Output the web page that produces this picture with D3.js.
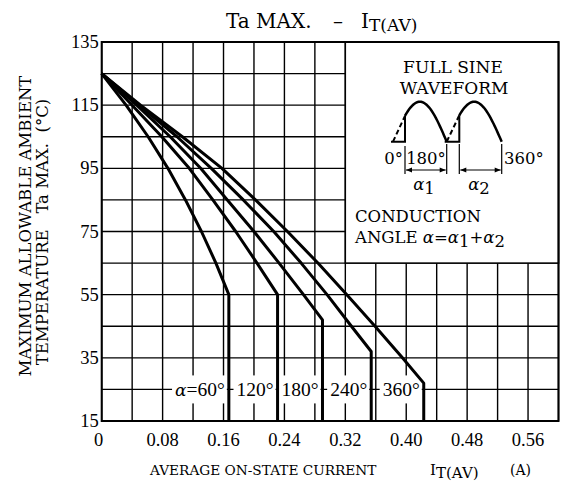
<!DOCTYPE html>
<html><head><meta charset="utf-8">
<script src="https://cdn.jsdelivr.net/npm/d3@7"></script>
<style>body{margin:0;background:#fff} svg{display:block}</style>
</head><body><svg id="c" width="563" height="490"></svg>
<script>
// ---- data ----
const angleLabels = ["60°", "120°", "180°", "240°", "360°"];
const curve60  = [[0,125],[0.032,115],[0.061,105],[0.087,95],[0.110,85],[0.131,75],[0.150,65],[0.167,55],[0.167,15]];
const curve120 = [[0,125],[0.040,115],[0.079,105],[0.115,95],[0.146,85],[0.176,75],[0.204,65],[0.231,55],[0.231,15]];
const curve180 = [[0,125],[0.046,115],[0.090,105],[0.130,95],[0.165,85],[0.200,75],[0.233,65],[0.265,55],[0.290,47],[0.290,15]];
const curve240 = [[0,125],[0.049,115],[0.099,105],[0.144,95],[0.186,85],[0.226,75],[0.262,65],[0.296,55],[0.328,45],[0.354,37],[0.354,15]];
const curve360 = [[0,125],[0.051,115],[0.106,105],[0.158,95],[0.202,85],[0.244,75],[0.284,65],[0.322,55],[0.359,45],[0.395,35],[0.423,27],[0.423,15]];
const curves = [curve60, curve120, curve180, curve240, curve360];
const xTickLabels = ["0","0.08","0.16","0.24","0.32","0.40","0.48","0.56"];
const xTickValues = [0,0.08,0.16,0.24,0.32,0.40,0.48,0.56];
const yTickValues = [15,35,55,75,95,115,135];
const xGridValues = [0,0.04,0.08,0.12,0.16,0.20,0.24,0.28,0.32,0.36,0.40,0.44,0.48,0.52,0.56,0.60];
const yGridValues = [15,25,35,45,55,65,75,85,95,105,115,125,135];
const labelT = 25;

// ---- layout ----
const svg = d3.select("#c");
const x = d3.scaleLinear().domain([0,0.6]).range([101.7,558.5]);
const y = d3.scaleLinear().domain([15,135]).range([421,42]);
const serif = "DejaVu Serif";
const numFont = "Liberation Serif";

// grid
const g = svg.append("g");
g.selectAll("line.v").data(xGridValues).join("line")
  .attr("x1",d=>x(d)).attr("x2",d=>x(d)).attr("y1",y(15)).attr("y2",y(135))
  .attr("stroke","#000").attr("stroke-width",1.4);
g.selectAll("line.h").data(yGridValues).join("line")
  .attr("y1",d=>y(d)).attr("y2",d=>y(d)).attr("x1",x(0)).attr("x2",x(0.6))
  .attr("stroke","#000").attr("stroke-width",1.4);

// inset white box
svg.append("rect").attr("x",x(0.32)).attr("y",y(135)).attr("width",x(0.6)-x(0.32)).attr("height",y(65)-y(135))
  .attr("fill","#fff").attr("stroke","#000").attr("stroke-width",1.5);

// plot border
svg.append("rect").attr("x",x(0)).attr("y",y(135)).attr("width",x(0.6)-x(0)).attr("height",y(15)-y(135))
  .attr("fill","none").attr("stroke","#000").attr("stroke-width",2);

// angle label backgrounds + texts
const labBg = svg.append("g");
const curveG = svg.append("g");
const labTx = svg.append("g");
curves.forEach((c,i)=>{
  const kx = c[c.length-1][0];
  const t = labTx.append("text").attr("x",x(kx)-4).attr("y",y(labelT)+6.5)
    .attr("text-anchor","end").attr("font-family",numFont).attr("font-size",19.5);
  if(i===0){
    t.append("tspan").attr("font-style","italic").attr("font-family",serif).attr("font-size",17).text("α");
    t.append("tspan").text("=");
  }
  t.append("tspan").text(angleLabels[i]);
  const bb = t.node().getBBox();
  labBg.append("rect").attr("x",bb.x-3).attr("y",y(labelT)-14).attr("width",bb.width+5).attr("height",28).attr("fill","#fff");
});

// curves
const line = d3.line().x(d=>x(d[0])).y(d=>y(d[1])).curve(d3.curveLinear);
curveG.selectAll("path").data(curves).join("path")
  .attr("d",line).attr("fill","none").attr("stroke","#000").attr("stroke-width",3).attr("stroke-linejoin","round");

// tick labels
svg.append("g").selectAll("text").data(yTickValues).join("text")
  .attr("x",x(0)-3).attr("y",d=>y(d)+6).attr("text-anchor","end")
  .attr("font-family",numFont).attr("font-size",18.5).text(d=>d);
svg.append("g").selectAll("text").data(xTickValues).join("text")
  .attr("x",(d,i)=>i===0?x(d)-3:x(d)).attr("y",446).attr("text-anchor","middle")
  .attr("font-family",numFont).attr("font-size",18.5).text((d,i)=>xTickLabels[i]);

// title
const title = svg.append("text").attr("y",28).attr("font-family",serif).attr("font-size",20);
title.append("tspan").attr("x",226).text("Ta MAX.");
title.append("tspan").attr("x",333).text("–");
title.append("tspan").attr("x",361).text("I");
title.append("tspan").attr("x",369).attr("font-size",17).attr("dy",3).text("T(AV)");

// x label
const xl = svg.append("text").attr("x",150).attr("y",475).attr("font-family",serif).attr("font-size",13.7);
xl.append("tspan").text("AVERAGE ON-STATE CURRENT");
xl.append("tspan").attr("x",430).attr("font-size",15).text("I");
xl.append("tspan").attr("font-size",15).attr("dy",3).text("T(AV)");
xl.append("tspan").attr("x",510).attr("dy",-3).attr("font-size",14).text("(A)");

// y label
svg.append("text").attr("transform","translate(31,226) rotate(-90)").attr("text-anchor","middle")
  .attr("font-family",serif).attr("font-size",16.5).text("MAXIMUM ALLOWABLE AMBIENT");
svg.append("text").attr("transform","translate(48,232) rotate(-90)").attr("text-anchor","middle")
  .attr("font-family",serif).attr("font-size",16.5).attr("xml:space","preserve").text("TEMPERATURE   Ta MAX.  (°C)");

// inset text
const ins = svg.append("g").attr("font-family",serif).attr("font-size",17);
ins.append("text").attr("x",453).attr("y",73).attr("text-anchor","middle").text("FULL SINE");
ins.append("text").attr("x",454).attr("y",94).attr("text-anchor","middle").text("WAVEFORM");
ins.append("text").attr("x",355).attr("y",222).attr("font-size",16.5).text("CONDUCTION");
const ang = ins.append("text").attr("x",355).attr("y",243).attr("font-size",16.5);
ang.append("tspan").text("ANGLE ");
ang.append("tspan").attr("font-style","italic").text(" α");
ang.append("tspan").text("=");
ang.append("tspan").attr("font-style","italic").text("α");
ang.append("tspan").attr("dy",4).text("1");
ang.append("tspan").attr("dy",-4).text("+");
ang.append("tspan").attr("font-style","italic").text("α");
ang.append("tspan").attr("dy",4).text("2");

// waveform schematic
const w = svg.append("g").attr("stroke","#000").attr("fill","none");
const base = 141.7, amp = 40;
function hump(x0, x1, fireX){
  const pts=[];
  for(let i=0;i<=40;i++){
    const px = x0+(x1-x0)*i/40;
    const py = base-amp*Math.sin(Math.PI*i/40);
    if(px>=fireX) pts.push([px,py]);
  }
  const l=d3.line();
  const fy = base-amp*Math.sin(Math.PI*(fireX-x0)/(x1-x0));
  pts.unshift([fireX,fy]);
  w.append("path").attr("d",l(pts)).attr("stroke-width",2.5);
  w.append("path").attr("d",l([[x0,base],[fireX,fy]])).attr("stroke-width",2).attr("stroke-dasharray","5,3");
  w.append("path").attr("d",l([[x0-2,base],[fireX,base],[fireX,fy]])).attr("stroke-width",2);
}
hump(393,446.7,405);
hump(446.7,501.7,459.3);
[[405,146,174],[446.7,144,174],[459.3,144,174],[501.7,144,174]].forEach(d=>{
  w.append("line").attr("x1",d[0]).attr("x2",d[0]).attr("y1",d[1]).attr("y2",d[2]).attr("stroke-width",1.2);
});
function arrow(a,b,yy){
  w.append("line").attr("x1",a+1).attr("x2",b-1).attr("y1",yy).attr("y2",yy).attr("stroke-width",1.2);
  w.append("path").attr("d",`M${a+1},${yy}l6,-2.5l0,5z M${b-1},${yy}l-6,-2.5l0,5z`).attr("fill","#000").attr("stroke","none");
}
arrow(405,446.7,170);
arrow(459.3,501.7,170);
const lab = svg.append("g").attr("font-family",serif).attr("font-size",16.5);
lab.append("text").attr("x",403).attr("y",164).attr("text-anchor","end").text("0°");
lab.append("text").attr("x",426).attr("y",164).attr("text-anchor","middle").text("180°");
lab.append("text").attr("x",504).attr("y",164).text("360°");
[["1",424],["2",479]].forEach(d=>{
  const t=lab.append("text").attr("x",d[1]).attr("y",190).attr("text-anchor","middle");
  t.append("tspan").attr("font-style","italic").text("α");
  t.append("tspan").attr("dy",4).text(d[0]);
});
</script></body></html>
